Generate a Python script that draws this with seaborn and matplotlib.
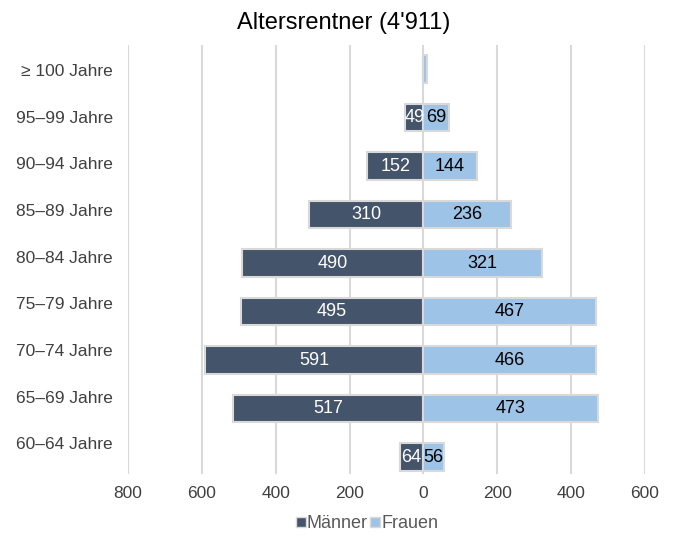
import matplotlib
matplotlib.use("Agg")
import matplotlib.pyplot as plt
from matplotlib.lines import Line2D
import seaborn as sns
import pandas as pd

# Age groups from oldest (top) to youngest (bottom)
age_groups = ["≥ 100 Jahre", "95–99 Jahre", "90–94 Jahre", "85–89 Jahre", "80–84 Jahre",
              "75–79 Jahre", "70–74 Jahre", "65–69 Jahre", "60–64 Jahre"]
maenner = [2, 49, 152, 310, 490, 495, 591, 517, 64]
frauen = [9, 69, 144, 236, 321, 467, 466, 473, 56]
x_ticks = [-800, -600, -400, -200, 0, 200, 400, 600]
x_tick_labels = ["800", "600", "400", "200", "0", "200", "400", "600"]
title = "Altersrentner (4'911)"

col_m = "#44546a"
col_f = "#9dc3e6"
edge = "#d9d9d9"
text_col = "#404040"

sns.set_theme(style="white")
plt.rcParams["font.family"] = ["Liberation Sans", "DejaVu Sans"]

df = pd.DataFrame({"Alter": age_groups,
                   "Männer": [-v for v in maenner],
                   "Frauen": frauen})

fig = plt.figure(figsize=(6.73, 5.38), dpi=100)
ax = fig.add_axes([128 / 673, 1 - 474 / 538, (645 - 128) / 673, (474 - 45) / 538])

sns.barplot(data=df, x="Männer", y="Alter", order=age_groups, orient="h",
            color=col_m, saturation=1, width=0.56, edgecolor=edge, linewidth=1.5, ax=ax,
            zorder=3)
sns.barplot(data=df, x="Frauen", y="Alter", order=age_groups, orient="h",
            color=col_f, saturation=1, width=0.56, edgecolor=edge, linewidth=1.5, ax=ax,
            zorder=3)

# value labels inside the bars
for i, (m, f) in enumerate(zip(maenner, frauen)):
    if m >= 20:
        ax.text(-m / 2, i, str(m), ha="center", va="center", color="white",
                fontsize=13, zorder=4)
    if f >= 20:
        ax.text(f / 2, i, str(f), ha="center", va="center", color="black",
                fontsize=13, zorder=4)

ax.set_xlim(-800, 600)
ax.set_ylim(8.35, -0.495)
ax.set_xticks(x_ticks)
ax.set_xticklabels(x_tick_labels)
# category labels sit on a slightly tighter pitch than the bars
ax.set_yticks([0.02 + 0.962 * i for i in range(len(age_groups))])
ax.set_yticklabels(age_groups)
ax.grid(axis="x", color=edge, linewidth=1.5, zorder=0)
ax.grid(axis="y", visible=False)
for s in ax.spines.values():
    s.set_visible(False)
ax.set_xlabel("")
ax.set_ylabel("")
ax.tick_params(axis="both", length=0, colors=text_col, labelsize=12.5)
ax.tick_params(axis="x", pad=9)
ax.tick_params(axis="y", pad=11)

fig.text(0.51, 1 - 23 / 538, title, ha="center", va="center", fontsize=17, color="black")

handles = [Line2D([], [], marker="s", linestyle="none", markersize=7.5,
                  markerfacecolor=col_m, markeredgecolor=edge, markeredgewidth=1),
           Line2D([], [], marker="s", linestyle="none", markersize=7.5,
                  markerfacecolor=col_f, markeredgecolor=edge, markeredgewidth=1)]
fig.legend(handles, ["Männer", "Frauen"], loc="center", bbox_to_anchor=(0.545, 1 - 524 / 538),
           ncol=2, frameon=False, handlelength=0.6, handletextpad=0.05, columnspacing=0.1,
           fontsize=13, labelcolor="#595959")

fig.savefig("out.png", dpi=100)
